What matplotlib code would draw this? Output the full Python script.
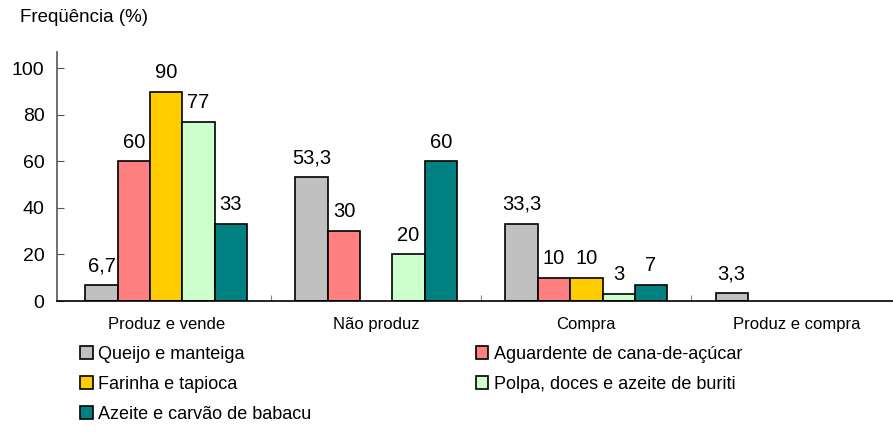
import numpy as np
import matplotlib
matplotlib.use("Agg")
from matplotlib import pyplot as plt
from matplotlib.patches import Patch

plt.rcParams['font.family'] = ['Liberation Sans', 'DejaVu Sans']

# data
categories = ['Produz e vende', 'Não produz', 'Compra', 'Produz e compra']
series_names = ['Queijo e manteiga', 'Aguardente de cana-de-açúcar',
                'Farinha e tapioca', 'Polpa, doces e azeite de buriti',
                'Azeite e carvão de babacu']
queijo = [6.7, 53.3, 33.3, 3.3]
aguardente = [60, 30, 10, None]
farinha = [90, None, 10, None]
polpa = [77, 20, 3, None]
azeite = [33, 60, 7, None]
labels_queijo = ['6,7', '53,3', '33,3', '3,3']
labels_aguardente = ['60', '30', '10', '']
labels_farinha = ['90', '', '10', '']
labels_polpa = ['77', '20', '3', '']
labels_azeite = ['33', '60', '7', '']
colors = ['#C0C0C0', '#FF8080', '#FFCC00', '#CCFFCC', '#008080']

series = [queijo, aguardente, farinha, polpa, azeite]
series_labels = [labels_queijo, labels_aguardente, labels_farinha, labels_polpa, labels_azeite]

fig = plt.figure(figsize=(8.93, 4.34), dpi=100)
ax = fig.add_axes([57/893, 1 - 301/434, 1 - 57/893, (301 - 52)/434])

x = np.arange(len(categories))
w = 0.154
for i, (vals, labs) in enumerate(zip(series, series_labels)):
    pos = x + (i - 2) * w
    for p, v, lab in zip(pos, vals, labs):
        if v is None:
            continue
        ax.bar(p, v, w, color=colors[i], edgecolor='black', linewidth=1.2)
        ax.annotate(lab, (p, v), xytext=(0, 7), textcoords='offset points',
                    ha='center', va='bottom', fontsize=14.5)

ax.set_xlim(-0.52, 3.46)
ax.set_ylim(0, 107)
ax.set_yticks([0, 20, 40, 60, 80, 100])
ax.tick_params(axis='y', direction='in', length=5, labelsize=14, pad=9, color='#555555')
ax.set_xticks(x[:-1] + 0.5)
ax.set_xticklabels([])
ax.tick_params(axis='x', direction='in', length=4, color='#888888')
for xi, c in zip(x, categories):
    ax.text(xi, -7, c, ha='center', va='top', fontsize=12)

ax.spines['top'].set_visible(False)
ax.spines['right'].set_visible(False)
ax.spines['left'].set_color('#555555')
ax.spines['left'].set_linewidth(1.2)
ax.spines['bottom'].set_linewidth(1.2)

fig.text(20/893, 1 - 18/434, 'Freqüência (%)', ha='left', va='center', fontsize=13.5)

order = [0, 2, 4, 1, 3]
handles = [Patch(facecolor=colors[k], edgecolor='black', linewidth=1.2) for k in order]
fig.legend(handles, [series_names[k] for k in order], loc='upper left',
           bbox_to_anchor=(80/893, 1 - 346/434), ncol=2, frameon=False,
           fontsize=13, handlelength=0.7, handleheight=0.7, handletextpad=0.3,
           columnspacing=9.1, labelspacing=0.72, borderpad=0, borderaxespad=0)

fig.savefig('out.png', dpi=100)
